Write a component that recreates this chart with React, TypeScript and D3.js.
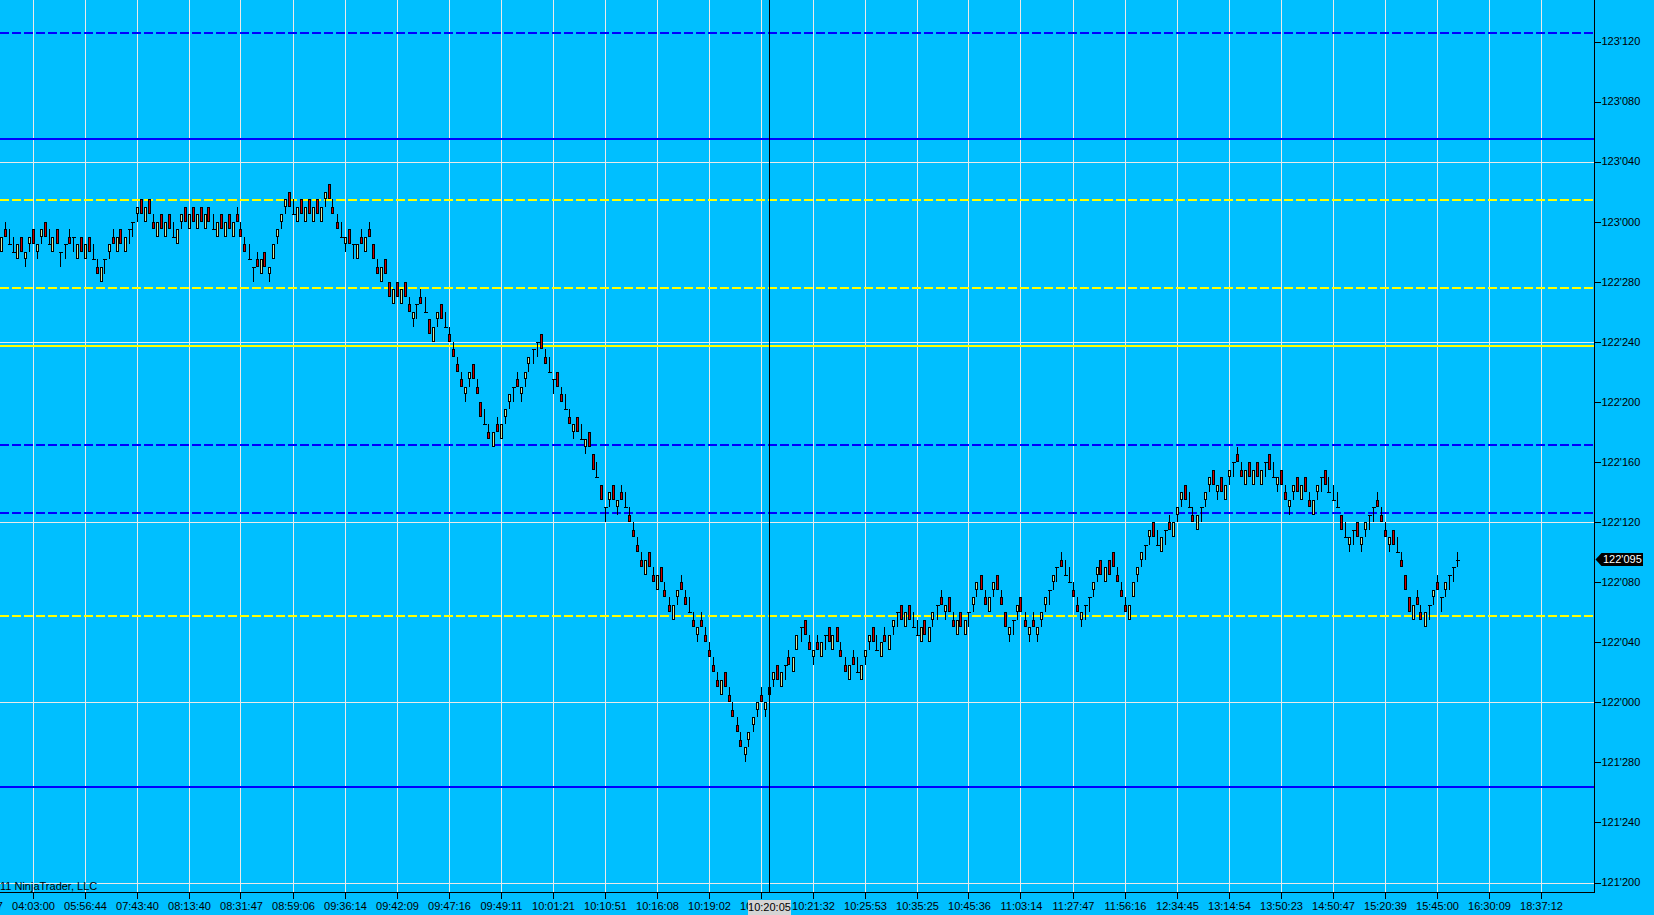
import * as d3 from "d3";

// prices are stored as ticks of 1/64 above 122'000
const BASE = 122;
const TICK = 1 / 64;

const opens = [
  60, 63, 61, 60, 59, 62, 59, 61, 63, 60, 62, 64, 61, 60, 63, 60, 61, 62, 62, 59,
  62, 59, 62, 59, 58, 56, 59, 60, 62, 60, 63, 60, 63, 64, 65, 67, 64, 67, 64, 62,
  65, 62, 65, 62, 61, 64, 66, 63, 66, 63, 66, 63, 66, 63, 62, 65, 62, 65, 62, 65,
  63, 61, 59, 58, 59, 57, 60, 57, 59, 62, 64, 66, 68, 65, 64, 67, 64, 67, 64, 67,
  64, 67, 69, 66, 64, 62, 61, 63, 61, 59, 62, 60, 63, 61, 58, 56, 59, 56, 53, 56,
  53, 56, 53, 51, 53, 54, 52, 51, 48, 51, 53, 50, 49, 47, 45, 43, 41, 43, 45, 42,
  40, 37, 36, 34, 37, 35, 38, 40, 42, 43, 41, 43, 45, 47, 48, 49, 46, 44, 43, 44,
  41, 39, 38, 36, 38, 35, 34, 36, 33, 30, 29, 26, 27, 29, 26, 28, 26, 25, 23, 21,
  19, 17, 20, 17, 15, 18, 15, 13, 11, 14, 16, 14, 12, 11, 9, 11, 9, 7, 5, 3,
  1, 4, 1, -1, -3, -5, -7, -5, -3, -1, 1, -1, 1, 3, 5, 2, 5, 6, 4, 7,
  10, 11, 8, 6, 8, 6, 9, 10, 7, 10, 7, 5, 3, 6, 4, 3, 6, 8, 10, 7,
  6, 9, 7, 10, 12, 13, 10, 13, 10, 9, 8, 11, 8, 11, 13, 14, 12, 14, 11, 9,
  12, 9, 12, 13, 15, 17, 14, 12, 15, 17, 14, 12, 9, 11, 12, 14, 11, 9, 11, 9,
  11, 13, 15, 16, 18, 19, 17, 16, 15, 13, 11, 13, 14, 15, 17, 19, 16, 19, 20, 17,
  15, 13, 11, 14, 17, 19, 21, 22, 24, 21, 20, 23, 24, 22, 25, 27, 29, 26, 25, 23,
  26, 27, 29, 31, 28, 30, 27, 30, 32, 33, 31, 29, 32, 29, 32, 29, 32, 33, 30, 29,
  31, 28, 26, 28, 30, 27, 30, 27, 25, 28, 30, 31, 28, 27, 26, 25, 22, 21, 23, 24,
  21, 23, 25, 26, 27, 25, 23, 21, 23, 20, 19, 17, 14, 11, 14, 12, 10, 13, 14, 16,
  14, 15, 17, 18, 19,
];

const highs = [
  62, 64, 63, 62, 61, 62, 60, 62, 63, 61, 63, 64, 63, 62, 63, 60, 61, 63, 62, 61,
  62, 61, 62, 61, 59, 58, 59, 61, 63, 62, 63, 62, 63, 64, 66, 67, 66, 67, 65, 64,
  65, 64, 65, 64, 63, 65, 66, 65, 66, 65, 66, 65, 66, 65, 64, 65, 64, 65, 64, 66,
  64, 62, 61, 58, 60, 59, 60, 58, 61, 63, 65, 67, 68, 67, 66, 67, 66, 67, 66, 67,
  66, 68, 69, 67, 65, 64, 62, 63, 61, 61, 63, 62, 64, 61, 59, 58, 59, 56, 55, 56,
  55, 56, 54, 52, 53, 55, 54, 51, 50, 52, 53, 52, 50, 48, 46, 44, 42, 44, 45, 43,
  40, 39, 37, 36, 38, 37, 39, 41, 42, 44, 42, 44, 46, 47, 48, 49, 47, 46, 43, 44,
  42, 41, 39, 37, 38, 37, 35, 36, 33, 32, 29, 26, 28, 29, 27, 29, 28, 26, 24, 22,
  20, 19, 20, 18, 17, 18, 16, 14, 13, 15, 17, 15, 14, 12, 10, 12, 10, 8, 6, 4,
  3, 4, 2, 0, -2, -4, -6, -4, -2, 0, 2, 0, 2, 4, 5, 4, 5, 7, 6, 9,
  10, 11, 9, 7, 9, 8, 9, 10, 9, 10, 8, 6, 5, 7, 6, 5, 7, 9, 10, 9,
  8, 10, 9, 11, 12, 13, 12, 13, 12, 11, 10, 11, 10, 12, 13, 15, 13, 14, 12, 11,
  12, 11, 12, 14, 16, 17, 15, 14, 16, 17, 15, 12, 10, 11, 13, 14, 12, 10, 12, 10,
  12, 14, 15, 17, 18, 20, 19, 18, 16, 14, 12, 13, 14, 16, 18, 19, 18, 19, 20, 18,
  16, 14, 13, 16, 18, 20, 21, 23, 24, 23, 22, 23, 25, 24, 26, 28, 29, 28, 26, 25,
  26, 28, 30, 31, 29, 30, 29, 31, 32, 34, 32, 31, 32, 31, 32, 31, 32, 33, 32, 30,
  31, 29, 27, 29, 30, 29, 30, 28, 27, 29, 30, 31, 30, 29, 28, 25, 24, 22, 23, 24,
  22, 24, 25, 26, 28, 26, 24, 22, 23, 22, 20, 17, 14, 13, 15, 13, 12, 13, 15, 17,
  14, 16, 17, 18, 20,
];

const lows = [
  60, 62, 61, 60, 59, 60, 58, 60, 61, 59, 61, 62, 61, 60, 61, 58, 59, 61, 60, 59,
  60, 59, 60, 59, 57, 56, 57, 59, 61, 60, 61, 60, 61, 62, 64, 65, 64, 65, 63, 62,
  63, 62, 63, 62, 61, 63, 64, 63, 64, 63, 64, 63, 64, 63, 62, 63, 62, 63, 62, 64,
  62, 60, 59, 56, 58, 57, 58, 56, 59, 61, 63, 65, 66, 65, 64, 65, 64, 65, 64, 65,
  64, 66, 67, 65, 63, 62, 60, 61, 59, 59, 61, 60, 62, 59, 57, 56, 57, 54, 53, 54,
  53, 54, 52, 50, 51, 53, 52, 49, 48, 50, 51, 50, 48, 46, 44, 42, 40, 42, 43, 41,
  38, 37, 35, 34, 36, 35, 37, 39, 40, 42, 40, 42, 44, 45, 46, 47, 45, 44, 41, 42,
  40, 39, 37, 35, 36, 35, 33, 34, 31, 30, 27, 24, 26, 27, 25, 27, 26, 24, 22, 20,
  18, 17, 18, 16, 15, 16, 14, 12, 11, 13, 15, 13, 12, 10, 8, 10, 8, 6, 4, 2,
  1, 2, 0, -2, -4, -6, -8, -6, -4, -2, 0, -2, 0, 2, 3, 2, 3, 5, 4, 7,
  8, 9, 7, 5, 7, 6, 7, 8, 7, 8, 6, 4, 3, 5, 4, 3, 5, 7, 8, 7,
  6, 8, 7, 9, 10, 11, 10, 11, 10, 9, 8, 9, 8, 10, 11, 13, 11, 12, 10, 9,
  10, 9, 10, 12, 14, 15, 13, 12, 14, 15, 13, 10, 8, 9, 11, 12, 10, 8, 10, 8,
  10, 12, 13, 15, 16, 18, 17, 16, 14, 12, 10, 11, 12, 14, 16, 17, 16, 17, 18, 16,
  14, 12, 11, 14, 16, 18, 19, 21, 22, 21, 20, 21, 23, 22, 24, 26, 27, 26, 24, 23,
  24, 26, 28, 29, 27, 28, 27, 29, 30, 32, 30, 29, 30, 29, 30, 29, 30, 31, 30, 28,
  29, 27, 25, 27, 28, 27, 28, 26, 25, 27, 28, 29, 28, 27, 26, 23, 22, 20, 21, 22,
  20, 22, 23, 24, 26, 24, 22, 20, 21, 20, 18, 15, 12, 11, 13, 11, 10, 11, 13, 15,
  12, 14, 15, 16, 18,
];

const closes = [
  62, 62, 61, 60, 61, 60, 60, 62, 61, 61, 63, 62, 61, 62, 61, 60, 61, 61, 62, 61,
  60, 61, 60, 59, 57, 58, 59, 61, 61, 62, 61, 62, 63, 64, 66, 65, 66, 65, 63, 64,
  63, 64, 63, 62, 63, 65, 64, 65, 64, 65, 64, 65, 64, 63, 64, 63, 64, 63, 64, 64,
  62, 60, 59, 58, 58, 59, 58, 58, 61, 63, 65, 67, 66, 65, 66, 65, 66, 65, 66, 65,
  66, 68, 67, 65, 63, 62, 62, 61, 61, 61, 61, 62, 62, 59, 57, 58, 57, 54, 55, 54,
  55, 54, 52, 52, 53, 53, 52, 49, 50, 52, 51, 50, 48, 46, 44, 42, 42, 44, 43, 41,
  38, 37, 35, 36, 36, 37, 39, 41, 42, 42, 42, 44, 46, 47, 48, 47, 45, 44, 43, 42,
  40, 39, 37, 37, 36, 35, 35, 34, 31, 30, 27, 26, 28, 27, 27, 27, 26, 24, 22, 20,
  18, 19, 18, 16, 17, 16, 14, 12, 13, 15, 15, 13, 12, 10, 10, 10, 8, 6, 4, 2,
  3, 2, 0, -2, -4, -6, -6, -4, -2, 0, 0, 0, 2, 4, 3, 4, 5, 5, 6, 9,
  10, 9, 7, 7, 7, 8, 9, 8, 9, 8, 6, 4, 5, 5, 4, 5, 7, 9, 8, 7,
  8, 8, 9, 11, 12, 11, 12, 11, 10, 9, 10, 9, 10, 12, 13, 13, 13, 12, 10, 11,
  10, 11, 12, 14, 16, 15, 13, 14, 16, 15, 13, 10, 10, 11, 13, 12, 10, 10, 10, 10,
  12, 14, 15, 17, 18, 18, 17, 16, 14, 12, 12, 13, 14, 16, 18, 17, 18, 17, 18, 16,
  14, 12, 13, 16, 18, 20, 21, 23, 22, 21, 22, 23, 23, 24, 26, 28, 27, 26, 24, 25,
  26, 28, 30, 29, 29, 28, 29, 31, 32, 32, 30, 31, 30, 31, 30, 31, 32, 31, 30, 30,
  29, 27, 27, 29, 28, 29, 28, 26, 27, 29, 30, 29, 28, 27, 26, 23, 22, 22, 23, 22,
  22, 24, 25, 26, 26, 24, 22, 22, 21, 20, 18, 15, 12, 13, 13, 11, 12, 13, 15, 15,
  14, 16, 17, 18, 19,
];

// time labels, one every 13 bars (first one is cut off at the left edge)
const timeLabels = [
  "01:32:57", "04:03:00", "05:56:44", "07:43:40", "08:13:40", "08:31:47", "08:59:06",
  "09:36:14", "09:42:09", "09:47:16", "09:49:11", "10:01:21", "10:10:51", "10:16:08",
  "10:19:02", "10:19:47", "10:21:32", "10:25:53", "10:35:25", "10:45:36", "11:03:14",
  "11:27:47", "11:56:16", "12:34:45", "13:14:54", "13:50:23", "14:50:47", "15:20:39",
  "15:45:00", "16:30:09", "18:37:12",
];
const firstLabelBar = -5;
const labelEvery = 13;

const crosshairBar = 191.75;
const crosshairLabel = "10:20:05";

// drawn levels (price)
const blueDashed = [123.3919, 122.5347, 122.3939];
const blueSolid = [123.1719, 121.8231];
const yellowDashed = [123.0444, 122.862, 122.1795];
const yellowSolid = [122.7406];

const priceTicks = d3.range(0, 15).map((k) => 121.625 + k * 0.125);
const gridPrices = [121.625, 122, 122.375, 122.75, 123.125];

const W = 1654;
const H = 915;
const AXIS_X = 1594.5;
const AXIS_Y = 892.5;
const BG = "#00BFFF";
const FONT = "'Liberation Sans', Arial, sans-serif";

function fmtPrice(p: number) {
  const whole = Math.floor(p + 1e-9);
  const f = (p - whole) * 32;
  return `${whole}'${String(Math.round(f * 10)).padStart(3, "0")}`;
}

export default function App() {
  const x = d3.scaleLinear().domain([0, 364]).range([1.5, 1457.5]);
  const y = d3.scaleLinear().domain([121.625, 123.375]).range([882.5, 41.5]);
  const py = (t: number) => y(BASE + t * TICK);

  const bars = opens.map((o, i) => ({ o, h: highs[i], l: lows[i], c: closes[i] }));
  const lastPrice = BASE + closes[closes.length - 1] * TICK;
  const lastY = y(lastPrice);
  const crossX = Math.round(x(crosshairBar)) + 0.5;

  return (
    <div style={{ position: "absolute", left: 0, top: 0 }}>
      <svg width={W} height={H} style={{ display: "block", background: BG }} fontFamily={FONT}>
        <rect x={0} y={0} width={W} height={H} fill={BG} />

        {/* grid */}
        <g stroke="#EAEAEA" strokeWidth={1} shapeRendering="crispEdges">
          {timeLabels.map((_, k) => {
            const gx = Math.round(x(firstLabelBar + k * labelEvery)) - 0.5;
            return <line key={k} x1={gx} x2={gx} y1={0} y2={AXIS_Y} />;
          })}
          {gridPrices.map((p) => (
            <line key={p} x1={0} x2={AXIS_X} y1={Math.round(y(p)) + 0.5} y2={Math.round(y(p)) + 0.5} />
          ))}
        </g>

        {/* levels */}
        <g strokeWidth={2} shapeRendering="crispEdges">
          {blueDashed.map((p) => (
            <line key={p} x1={0} x2={AXIS_X} y1={y(p)} y2={y(p)} stroke="#0000FF" strokeDasharray="8.5 3.5" />
          ))}
          {blueSolid.map((p) => (
            <line key={p} x1={0} x2={AXIS_X} y1={y(p)} y2={y(p)} stroke="#0000FF" />
          ))}
          {yellowDashed.map((p) => (
            <line key={p} x1={0} x2={AXIS_X} y1={y(p)} y2={y(p)} stroke="#FFFF00" strokeDasharray="8.5 3.5" />
          ))}
          {yellowSolid.map((p) => (
            <line key={p} x1={0} x2={AXIS_X} y1={y(p)} y2={y(p)} stroke="#FFFF00" />
          ))}
        </g>

        {/* candles */}
        <g shapeRendering="crispEdges">
          {bars.map((b, i) => {
            const cx = Math.round(x(i)) - 0.5;
            const top = Math.round(py(Math.max(b.o, b.c)));
            const bot = Math.round(py(Math.min(b.o, b.c)));
            return (
              <g key={i}>
                <line x1={cx} x2={cx} y1={Math.round(py(b.h))} y2={Math.round(py(b.l))} stroke="#000" strokeWidth={1} />
                {b.o === b.c ? (
                  <line x1={cx - 1.5} x2={cx + 2.5} y1={top + 0.5} y2={top + 0.5} stroke="#000" strokeWidth={1} />
                ) : (
                  <rect
                    x={cx - 1}
                    y={top + 0.5}
                    width={2}
                    height={bot - top - 1}
                    fill={b.c > b.o ? "#CDE8A0" : "#CC0000"}
                    stroke="#000"
                    strokeWidth={1}
                  />
                )}
              </g>
            );
          })}
        </g>

        {/* crosshair */}
        <line x1={crossX} x2={crossX} y1={0} y2={AXIS_Y} stroke="#000" strokeWidth={1} shapeRendering="crispEdges" />

        {/* axes */}
        <g stroke="#000" strokeWidth={1} shapeRendering="crispEdges">
          <line x1={AXIS_X} x2={AXIS_X} y1={0} y2={AXIS_Y} />
          <line x1={0} x2={AXIS_X} y1={AXIS_Y} y2={AXIS_Y} />
          {priceTicks.map((p) => (
            <line key={p} x1={AXIS_X} x2={AXIS_X + 6} y1={Math.round(y(p)) + 0.5} y2={Math.round(y(p)) + 0.5} />
          ))}
          {timeLabels.map((_, k) => {
            const gx = Math.round(x(firstLabelBar + k * labelEvery)) - 0.5;
            return <line key={k} x1={gx} x2={gx} y1={AXIS_Y} y2={AXIS_Y + 6} />;
          })}
        </g>

        <g fontSize={11} fill="#000">
          {priceTicks.map((p) => (
            <text key={p} x={1601.5} y={y(p)} dy="0.35em">
              {fmtPrice(p)}
            </text>
          ))}
          {timeLabels.map((t, k) => (
            <text key={k} x={x(firstLabelBar + k * labelEvery)} y={910} textAnchor="middle">
              {t}
            </text>
          ))}
          <text x={0} y={890}>
            11 NinjaTrader, LLC
          </text>
        </g>

        {/* crosshair time label */}
        <rect x={748} y={900} width={43} height={15} fill="#D4D4D4" />
        <text x={769.5} y={911} textAnchor="middle" fontSize={11} fill="#000">
          {crosshairLabel}
        </text>

        {/* last price marker */}
        <path
          d={`M${AXIS_X + 1},${lastY} L${AXIS_X + 7},${lastY - 6.5} H1643 V${lastY + 6.5} H${AXIS_X + 7} Z`}
          fill="#000"
        />
        <text x={1603} y={lastY} dy="0.35em" fontSize={11} fill="#FFF">
          {fmtPrice(lastPrice)}
        </text>
      </svg>
    </div>
  );
}
